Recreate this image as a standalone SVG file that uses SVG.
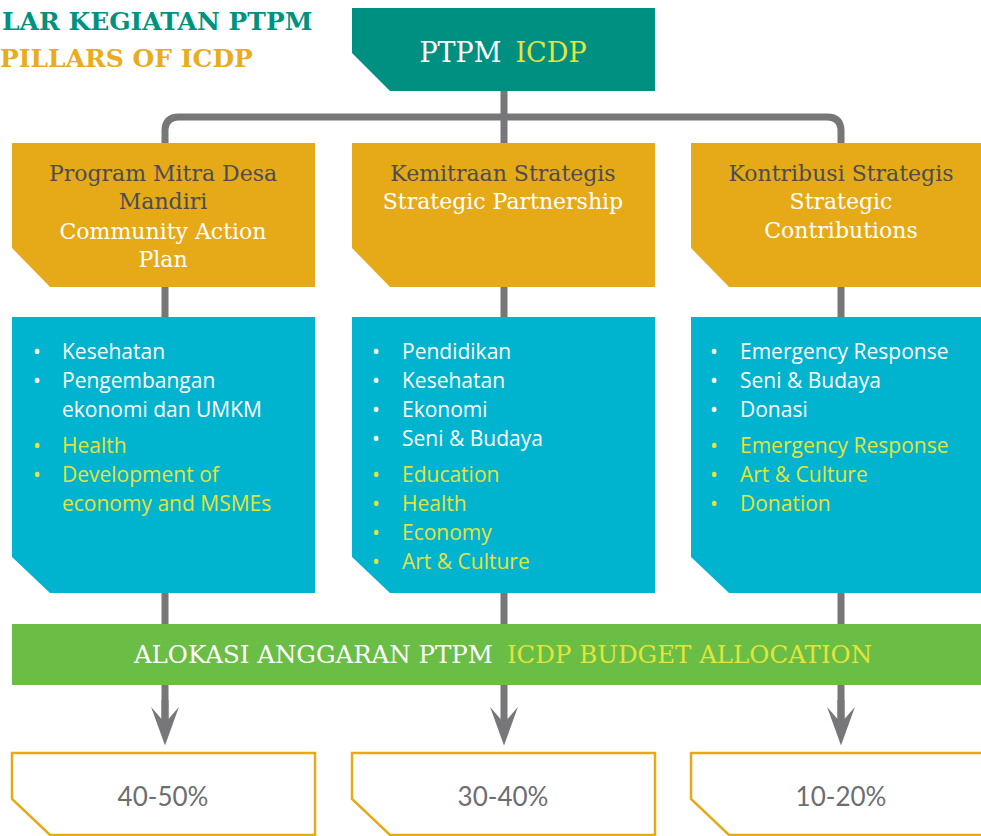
<svg xmlns="http://www.w3.org/2000/svg" width="981" height="836" viewBox="0 0 981 836">
<style>
.ttl{font-family:"DejaVu Serif","Liberation Serif",serif;font-size:22px;text-anchor:middle}
.dk{fill:#4d4d4f}
.wh{fill:#ffffff}
.yl{fill:#e4e43a}
.li{font-family:"Open Sans","Noto Sans",sans-serif;font-size:21px}
.pct{font-family:"Lato","Open Sans",sans-serif;font-size:26px;fill:#6d6e71;text-anchor:middle}
.or{fill:#e6aa18}
.bl{fill:#00b3cf}
.bx{fill:#ffffff;stroke:#e6aa18;stroke-width:2.5}
.con{fill:none;stroke:#77777a;stroke-width:7}
</style>
<defs>
<marker id="ah" markerUnits="userSpaceOnUse" markerWidth="40" markerHeight="30" viewBox="0 -14 37 28" refX="15" refY="0" orient="auto">
<path d="M0,-13 L36,0 L0,13 L15,0 Z" fill="#77777a"/>
</marker>
</defs>
<g id="heading">
<text x="2" y="30" font-family="DejaVu Serif,Liberation Serif,serif" font-weight="bold" font-size="25" fill="#00927f">LAR KEGIATAN PTPM</text>
<text x="0" y="67" font-family="DejaVu Serif,Liberation Serif,serif" font-weight="bold" font-size="25" fill="#e8ac1c">PILLARS OF ICDP</text>
</g>
<g id="connectors">
<path class="con" d="M504,91 V723" marker-end="url(#ah)"/>
<path class="con" d="M165,723 V131 Q165,117 179,117 H827 Q841,117 841,131 V723" />
<path class="con" d="M165,700 V723" marker-end="url(#ah)"/>
<path class="con" d="M841,700 V723" marker-end="url(#ah)"/>
</g>
<g id="top">
<path d="M352,8 H655 V91 H390 L352,53 Z" fill="#009081"/>
<text x="503" y="62" font-family="DejaVu Serif,Liberation Serif,serif" font-size="27" text-anchor="middle"><tspan fill="#ffffff">PTPM</tspan><tspan fill="#e4e43a" dx="14">ICDP</tspan></text>
</g>
<g id="pillar1">
<path class="or" d="M12,143 H315 V287 H50 L12,248 Z"/>
<text class="ttl dk" x="163" y="181">Program Mitra Desa</text>
<text class="ttl dk" x="163" y="209">Mandiri</text>
<text class="ttl wh" x="163" y="239">Community Action</text>
<text class="ttl wh" x="163" y="267">Plan</text>
</g>
<g id="pillar2">
<path class="or" d="M352,143 H655 V287 H390 L352,248 Z"/>
<text class="ttl dk" x="503" y="181">Kemitraan Strategis</text>
<text class="ttl wh" x="503" y="209">Strategic Partnership</text>
</g>
<g id="pillar3">
<path class="or" d="M691,143 H981 V287 H729 L691,248 Z"/>
<text class="ttl dk" x="841" y="181">Kontribusi Strategis</text>
<text class="ttl wh" x="841" y="209">Strategic</text>
<text class="ttl wh" x="841" y="238">Contributions</text>
</g>
<g id="list1">
<path class="bl" d="M12,317 H315 V593 H50 L12,557 Z"/>
<g class="li">
<text class="wh" x="33" y="359">•</text><text class="wh" x="62" y="359">Kesehatan</text>
<text class="wh" x="33" y="388">•</text><text class="wh" x="62" y="388">Pengembangan</text>
<text class="wh" x="62" y="417">ekonomi dan UMKM</text>
<text class="yl" x="33" y="453">•</text><text class="yl" x="62" y="453">Health</text>
<text class="yl" x="33" y="482">•</text><text class="yl" x="62" y="482">Development of</text>
<text class="yl" x="62" y="511">economy and MSMEs</text>
</g>
</g>
<g id="list2">
<path class="bl" d="M352,317 H655 V593 H390 L352,557 Z"/>
<g class="li">
<text class="wh" x="372" y="359">•</text><text class="wh" x="402" y="359">Pendidikan</text>
<text class="wh" x="372" y="388">•</text><text class="wh" x="402" y="388">Kesehatan</text>
<text class="wh" x="372" y="417">•</text><text class="wh" x="402" y="417">Ekonomi</text>
<text class="wh" x="372" y="446">•</text><text class="wh" x="402" y="446">Seni &amp; Budaya</text>
<text class="yl" x="372" y="482">•</text><text class="yl" x="402" y="482">Education</text>
<text class="yl" x="372" y="511">•</text><text class="yl" x="402" y="511">Health</text>
<text class="yl" x="372" y="540">•</text><text class="yl" x="402" y="540">Economy</text>
<text class="yl" x="372" y="569">•</text><text class="yl" x="402" y="569">Art &amp; Culture</text>
</g>
</g>
<g id="list3">
<path class="bl" d="M691,317 H981 V593 H729 L691,557 Z"/>
<g class="li">
<text class="wh" x="710" y="359">•</text><text class="wh" x="740" y="359">Emergency Response</text>
<text class="wh" x="710" y="388">•</text><text class="wh" x="740" y="388">Seni &amp; Budaya</text>
<text class="wh" x="710" y="417">•</text><text class="wh" x="740" y="417">Donasi</text>
<text class="yl" x="710" y="453">•</text><text class="yl" x="740" y="453">Emergency Response</text>
<text class="yl" x="710" y="482">•</text><text class="yl" x="740" y="482">Art &amp; Culture</text>
<text class="yl" x="710" y="511">•</text><text class="yl" x="740" y="511">Donation</text>
</g>
</g>
<g id="budget">
<rect x="12" y="624" width="969" height="61" fill="#6abd45"/>
<text x="503" y="663" font-family="DejaVu Serif,Liberation Serif,serif" font-size="24.5" text-anchor="middle"><tspan fill="#ffffff">ALOKASI ANGGARAN PTPM</tspan><tspan fill="#e4e43a" dx="14">ICDP BUDGET ALLOCATION</tspan></text>
</g>
<g id="pct1">
<path class="bx" d="M12,753 H315 V835 H50 L12,799 Z"/>
<text class="pct" x="163" y="806">40-50%</text>
</g>
<g id="pct2">
<path class="bx" d="M352,753 H655 V835 H390 L352,799 Z"/>
<text class="pct" x="503" y="806">30-40%</text>
</g>
<g id="pct3">
<path class="bx" d="M691,753 H990 V835 H729 L691,799 Z"/>
<text class="pct" x="841" y="806">10-20%</text>
</g>
</svg>
